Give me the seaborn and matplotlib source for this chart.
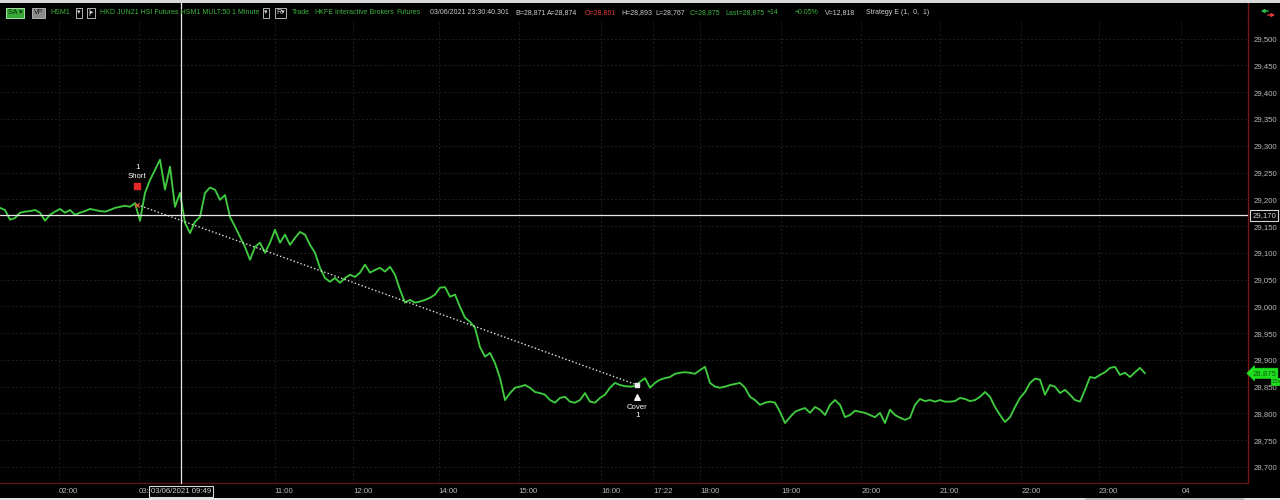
import numpy as np
import pandas as pd
import matplotlib
matplotlib.use("Agg")
import matplotlib.pyplot as plt
import matplotlib.transforms as mtrans
from matplotlib.patches import Rectangle
import seaborn as sns

# ---------------- data ----------------
# HSM1 1-minute close, sampled every 3.75 one-minute bars
price = [
    29184, 29180, 29162, 29165, 29175, 29177, 29178, 29180, 29175, 29160,
    29171, 29177, 29182, 29175, 29180, 29171, 29175, 29178, 29182, 29180,
    29178, 29177, 29180, 29184, 29186, 29188, 29186, 29193, 29160, 29212,
    29236, 29255, 29274, 29218, 29261, 29186, 29212, 29156, 29137, 29158,
    29167, 29212, 29222, 29218, 29199, 29208, 29167, 29149, 29130, 29111,
    29087, 29111, 29119, 29100, 29119, 29143, 29119, 29134, 29115, 29128,
    29139, 29134, 29115, 29100, 29072, 29053, 29046, 29053, 29044, 29053,
    29059, 29055, 29063, 29078, 29063, 29068, 29072, 29065, 29074, 29059,
    29031, 29007, 29012, 29007, 29009, 29012, 29016, 29022, 29035, 29036,
    29018, 29022, 28999, 28979, 28971, 28960, 28924, 28906, 28913, 28894,
    28866, 28825, 28838, 28848, 28850, 28853, 28848, 28840, 28838, 28835,
    28825, 28820, 28829, 28831, 28822, 28820, 28825, 28838, 28822, 28820,
    28829, 28835, 28848, 28857, 28853, 28851, 28850, 28851, 28859, 28866,
    28848, 28857, 28863, 28866, 28868, 28874, 28876, 28877, 28876, 28874,
    28881, 28887, 28857, 28850, 28848, 28850, 28853, 28855, 28857, 28848,
    28831, 28825, 28816, 28820, 28822, 28820, 28803, 28782, 28793, 28803,
    28807, 28810, 28801, 28812, 28807, 28797, 28816, 28825, 28816, 28793,
    28797, 28805, 28803, 28801, 28797, 28793, 28801, 28782, 28807, 28797,
    28792, 28788, 28792, 28816, 28827, 28823, 28825, 28822, 28825, 28822,
    28822, 28823, 28829, 28827, 28823, 28825, 28831, 28840, 28831, 28812,
    28797, 28784, 28793, 28812, 28829, 28840, 28857, 28865, 28863, 28835,
    28853, 28850, 28838, 28844, 28835, 28825, 28822, 28844, 28868, 28866,
    28872, 28877, 28885, 28887, 28872, 28876, 28868, 28877, 28885, 28875,
]
bar_step = 3.75          # minutes between samples
total_bars = 936         # bars visible across the chart

price_ticks = [28700, 28750, 28800, 28850, 28900, 28950, 29000, 29050, 29100,
               29150, 29200, 29250, 29300, 29350, 29400, 29450, 29500]
y_range = (28670, 29535)

time_labels = ["02:00", "03:00", "11:00", "12:00", "14:00", "15:00", "16:00", "17:22",
               "18:00", "19:00", "20:00", "21:00", "22:00", "23:00", "04"]
time_bars = [44, 104, 206, 265, 329, 389, 451, 490, 525, 586, 646, 705, 766, 824, 886]

cross_bar = 135.75
cross_label = "03/06/2021 09:49"
cross_price = 29170

entry_bar, entry_price = 103, 29190
exit_bar, exit_price = 478, 28853
short_flag_price = 29225
cover_flag_price = 28831
last_price = 28875

header = [
    (50, "HSM1", "g"), (100, "HKD JUN21 HSI Futures HSM1 MULT:50", "g"), (232, "1 Minute", "g"),
    (292, "Trade", "g"), (314, "HKFE", "g"), (335, "Interactive Brokers", "g"), (396, "Futures", "g"),
    (430, "03/06/2021 23:30:40.301", "w"), (515, "B=28,871", "w"), (547, "A=28,874", "w"),
    (585, "O=28,861", "r"), (621, "H=28,893", "w"), (655, "L=28,767", "w"),
    (690, "C=28,875", "g"), (725, "Last=28,875", "g"), (767, "+14", "g"),
    (795, "+0.05%", "g"), (825, "V=12,818", "w"), (866, "Strategy E (1,  0,  1)", "w"),
]

# ---------------- style ----------------
sns.set_theme(style="dark", rc={
    "axes.facecolor": "black", "figure.facecolor": "black",
    "axes.edgecolor": "#6e1414", "grid.color": "#1e1e1e",
})
plt.rcParams["font.family"] = ["Liberation Sans", "DejaVu Sans"]

GREEN = "#3fca3f"
TXT_G = "#3fb43f"
TXT_W = "#cfcfcf"
TXT_R = "#e03a3a"
FS = 5.6
FSH = 5.0

W, H = 1280, 500
fig = plt.figure(figsize=(12.8, 5.0), dpi=100, facecolor="black")
ax = fig.add_axes([0, 17 / H, 1248 / W, (483 - 20) / H])
ax.set_facecolor("black")

df = pd.DataFrame({"bar": np.arange(len(price)) * bar_step, "price": price})
sns.lineplot(data=df, x="bar", y="price", ax=ax, color=GREEN, lw=1.35, zorder=3)

ax.set_xlim(0, total_bars)
ax.set_ylim(*y_range)

# grid
ax.set_yticks(price_ticks)
ax.set_yticklabels([f"{v:,}" for v in price_ticks])
ax.set_xticks(time_bars)
ax.set_xticklabels(time_labels, ha="left")
ax.yaxis.tick_right()
ax.tick_params(axis="y", length=0, pad=4, labelsize=FS, labelcolor="#b9b9b9")
ax.tick_params(axis="x", length=0, pad=3.5, labelsize=FS, labelcolor="#b9b9b9")
ax.grid(True, color="#1e1e1e", lw=0.7, ls=(0, (2, 2)))
ax.set_xlabel("")
ax.set_ylabel("")
for s in ["top", "left"]:
    ax.spines[s].set_visible(False)
ax.spines["right"].set_color("#7a1616")
ax.spines["bottom"].set_color("#5a1414")
ax.spines["right"].set_linewidth(1.0)
ax.spines["bottom"].set_linewidth(1.0)
# right border extends through header
ax.plot([1, 1], [1, 1.045], transform=ax.transAxes, color="#7a1616", lw=1, clip_on=False)

# trade line
ax.plot([entry_bar, exit_bar], [entry_price, exit_price], color="#d6e6d6",
        lw=1.0, ls=(0, (1, 1.6)), zorder=4)
ax.scatter([entry_bar], [entry_price], marker="x", s=10, color="#e05a2a", lw=0.9, zorder=5)
ax.scatter([entry_bar], [short_flag_price], marker="s", s=14, color="#e02828", zorder=5)
ax.scatter([exit_bar], [exit_price], marker="s", s=5, color="#f0f0f0", zorder=5)
ax.scatter([exit_bar], [cover_flag_price], marker="^", s=16, color="#f4f4f4", zorder=5)
ax.annotate("Short", (entry_bar, short_flag_price), xytext=(0, 7), textcoords="offset points",
            ha="center", va="center", fontsize=FS, color="white")
ax.annotate("1", (entry_bar, short_flag_price), xytext=(0, 13), textcoords="offset points",
            ha="center", va="center", fontsize=FS, color="white")
ax.annotate("Cover", (exit_bar, cover_flag_price), xytext=(0, -7.5), textcoords="offset points",
            ha="center", va="center", fontsize=FS, color="white")
ax.annotate("1", (exit_bar, cover_flag_price), xytext=(0, -13.5), textcoords="offset points",
            ha="center", va="center", fontsize=FS, color="white")

# crosshair
ax.axhline(cross_price, color="#e8e8e8", lw=0.9, zorder=6)
ax.axvline(cross_bar, ymin=0, ymax=1.04, color="#e8e8e8", lw=0.9, clip_on=False, zorder=6)
bt = mtrans.blended_transform_factory(ax.transAxes, ax.transData)
ax.text(1.0035, cross_price, f"{cross_price:,}", transform=bt, ha="left", va="center",
        fontsize=FS, color="#d0d0d0", zorder=8, clip_on=False,
        bbox=dict(boxstyle="square,pad=0.25", fc="black", ec="#d8d8d8", lw=0.8))
bx = mtrans.blended_transform_factory(ax.transData, ax.transAxes)
ax.text(cross_bar, -0.0175, cross_label, transform=bx, ha="center", va="center",
        fontsize=FS, color="#d0d0d0", zorder=8, clip_on=False,
        bbox=dict(boxstyle="square,pad=0.25", fc="black", ec="#d8d8d8", lw=0.8))

# last price tag
ax.text(1.0035, last_price, f"{last_price:,}", transform=bt, ha="left", va="center",
        fontsize=FS, color="#0a5a0a", zorder=9, clip_on=False,
        bbox=dict(boxstyle="larrow,pad=0.2", fc="#1fe01f", ec="#1fe01f", lw=0.5))
ax.annotate("15s", (1.0, last_price), xycoords=bt, xytext=(17, -6), textcoords="offset points",
            ha="left", va="center", fontsize=4.4, color="#0a5a0a", zorder=9, annotation_clip=False,
            bbox=dict(boxstyle="square,pad=0.12", fc="#1fe01f", ec="#1fe01f", lw=0.5))

# ---------------- header ----------------
def fx(px):
    return px / W

def fy(py):
    return 1 - py / H

cmap = {"g": TXT_G, "w": TXT_W, "r": TXT_R}
for px, t, c in header:
    fig.text(fx(px), fy(13), t, color=cmap[c], fontsize=FSH, ha="left", va="center")

fig.text(fx(8), fy(13), "SA ▾", color="#0d2a0d", fontsize=FSH, ha="left", va="center",
         bbox=dict(boxstyle="square,pad=0.25", fc="#38a838", ec="#a8e0a8", lw=0.7))
fig.text(fx(34), fy(13), "VP", color="#1a1a1a", fontsize=FSH, ha="left", va="center",
         bbox=dict(boxstyle="square,pad=0.25", fc="#8a8a8a", ec="#c0c0c0", lw=0.6))
for px, t in [(77, "▾"), (88, "|▸"), (264, "▾"), (276, "R▾")]:
    fig.text(fx(px), fy(13), t, color="#d8d8d8", fontsize=FSH, ha="left", va="center",
             bbox=dict(boxstyle="square,pad=0.18", fc="black", ec="#d0d0d0", lw=0.6))

# top-right swap icon
ax.annotate("", xy=(1258, 489), xycoords="figure pixels", xytext=(1271, 489),
            arrowprops=dict(arrowstyle="-|>", color="#2fbf4f", lw=1.0, mutation_scale=5),
            annotation_clip=False)
ax.annotate("", xy=(1278, 485), xycoords="figure pixels", xytext=(1265, 485),
            arrowprops=dict(arrowstyle="-|>", color="#e03a3a", lw=1.0, mutation_scale=5),
            annotation_clip=False)

# top and bottom light strips, scrollbar
fig.patches.append(Rectangle((0, 1 - 3 / H), 1, 3 / H, transform=fig.transFigure,
                             fc="#d9d9d9", ec="none", zorder=10))
fig.patches.append(Rectangle((0, 0), 1, 2.5 / H, transform=fig.transFigure,
                             fc="#e2e2e2", ec="none", zorder=10))
fig.patches.append(Rectangle((1085 / W, 0), (1244 - 1085) / W, 2.5 / H, transform=fig.transFigure,
                             fc="#bdbdbd", ec="none", zorder=11))

fig.savefig("out.png", dpi=100, facecolor="black")
